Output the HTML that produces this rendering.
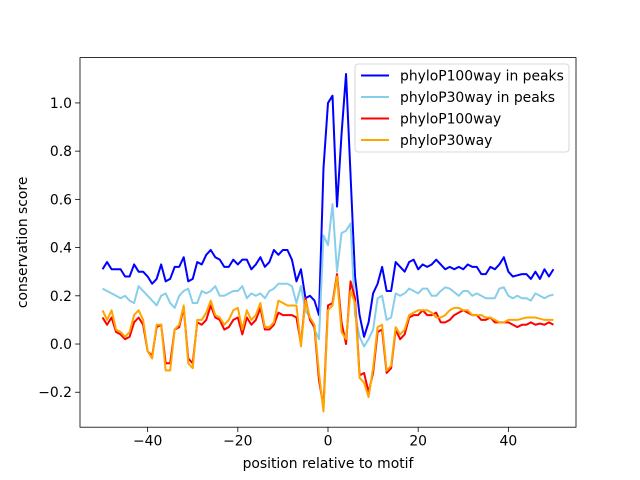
<!DOCTYPE html>
<html><head><meta charset="utf-8"><style>
body{margin:0;background:#fff;}
svg{display:block;font-family:"DejaVu Sans","Liberation Sans",sans-serif;}
</style></head><body>
<svg id="chart" width="640" height="480"></svg>
<script>
const xStart = -50;
const p100Peaks = [.31,.34,.31,.31,.31,.28,.28,.33,.30,.30, .28,.25,.27,.33,.26,.27,.32,.32,.36,.26, .27,.34,.33,.37,.39,.36,.35,.32,.32,.35, .33,.35,.35,.31,.33,.36,.32,.34,.39,.37, .39,.39,.35,.26,.31,.19,.20,.18,.12,.73,
 1.00,1.03,.57,.87,1.12,.70,.28,.12,.03,.09,.21,.25,.32,.22,.22,.34,.32,.30,.34,.35, .31,.33,.32,.33,.35,.33,.31,.32,.31,.32, .31,.33,.32,.32,.29,.29,.32,.31,.33,.36, .30,.28,.285,.29,.29,.27,.30,.27,.31,.28,.31];
const p30Peaks = [.23,.22,.21,.20,.19,.20,.18,.17,.24,.22, .20,.18,.16,.20,.21,.17,.15,.20,.22,.23, .17,.17,.22,.21,.22,.24,.20,.20,.21,.22, .22,.24,.19,.21,.20,.21,.19,.22,.23,.25, .25,.25,.24,.17,.24,.14,.11,.06,.02,.45,
 .41,.58,.30,.46,.47,.50,.12,.03,-.01,.02,.06,.19,.20,.10,.11,.21,.20,.21,.23,.22, .21,.23,.23,.20,.20,.22,.235,.23,.215,.20, .22,.22,.20,.21,.20,.19,.19,.19,.23,.235, .20,.19,.20,.19,.19,.18,.21,.20,.19,.20,.205];
const p100All = [.11,.08,.11,.05,.04,.02,.03,.09,.11,.08, -.03,-.05,.07,.08,-.08,-.08,.06,.07,.15,-.06, -.08,.09,.08,.10,.16,.11,.10,.06,.07,.10, .11,.04,.11,.08,.10,.15,.06,.06,.08,.13, .12,.12,.12,.11,0,.19,.10,.07,-.15,-.26,
 .16,.17,.29,.09,.00,.26,.19,-.13,-.12,-.20,-.12,.05,.06,-.12,-.10,.06,.02,.04,.11,.12, .12,.14,.12,.12,.13,.09,.09,.10,.12,.13, .14,.13,.12,.12,.10,.10,.11,.09,.09,.09, .09,.08,.07,.08,.08,.09,.08,.085,.08,.09,.08];
const p30All = [.14,.10,.14,.06,.05,.03,.05,.12,.14,.10, -.03,-.06,.08,.08,-.11,-.11,.06,.08,.16,-.08, -.10,.10,.10,.13,.18,.12,.11,.08,.10,.14, .15,.06,.14,.10,.12,.17,.07,.07,.09,.18, .17,.16,.16,.16,-.01,.18,.11,.08,-.12,-.28,
 .14,.16,.28,.05,.02,.22,.17,-.14,-.16,-.22,-.10,.07,.08,-.11,-.09,.07,.04,.06,.12,.13, .14,.14,.14,.13,.11,.11,.12,.14,.15,.15, .14,.14,.12,.12,.12,.11,.11,.10,.09,.09, .10,.10,.10,.105,.11,.11,.11,.105,.10,.10,.10];
const seriesNames = ["phyloP100way in peaks","phyloP30way in peaks","phyloP100way","phyloP30way"];
const xTicks = [-40,-20,0,20,40];
const yTicks = [-0.2,0.0,0.2,0.4,0.6,0.8,1.0];

const NS="http://www.w3.org/2000/svg";
const svg=document.getElementById('chart');
const L=80,R=576,T=57.6,B=427.2;
const xMin=-55,xMax=55,yMin=-0.345,yMax=1.188;
const FS=13.9;
const sx=v=>L+(v-xMin)/(xMax-xMin)*(R-L);
const sy=v=>B-(v-yMin)/(yMax-yMin)*(B-T);
function mk(tag,attrs){const e=document.createElementNS(NS,tag);for(const k in attrs)e.setAttribute(k,attrs[k]);svg.appendChild(e);return e;}

const colors=["#0000ff","#87ceeb","#ff0000","#ffa500"];
[p100Peaks,p30Peaks,p100All,p30All].forEach((arr,si)=>{
  const pts=arr.map((v,i)=>sx(xStart+i).toFixed(2)+","+sy(v).toFixed(2)).join(" ");
  const pl=mk('polyline',{points:pts,fill:'none',stroke:colors[si],'stroke-width':2,'stroke-linejoin':'round'});
  
  
});

const frame=mk('rect',{x:L,y:T,width:R-L,height:B-T,fill:'none',stroke:'#000','stroke-width':0.8});



xTicks.forEach(t=>{
  const x=sx(t);
  const tk=mk('line',{x1:x,x2:x,y1:B,y2:B+4.9,stroke:'#000','stroke-width':0.8});
  
  
  const tx=mk('text',{x:x,y:B+18.5,'text-anchor':'middle','font-size':FS,fill:'#000'});
  tx.textContent=(t<0?'\u2212'+(-t):t);
  
  
});
yTicks.forEach(t=>{
  const y=sy(t);
  const tk=mk('line',{x1:L-4.9,x2:L,y1:y,y2:y,stroke:'#000','stroke-width':0.8});
  
  
  const tx=mk('text',{x:L-8,y:y+5,'text-anchor':'end','font-size':FS,fill:'#000'});
  tx.textContent=(t<0?'\u2212':'')+Math.abs(t).toFixed(1);
  
  
});
const xl=mk('text',{x:(L+R)/2,y:468,'text-anchor':'middle','font-size':FS,fill:'#000'});
xl.textContent='position relative to motif';


const yl=mk('text',{x:0,y:0,'text-anchor':'middle','font-size':FS,fill:'#000',transform:'translate(27,'+((T+B)/2)+') rotate(-90)'});
yl.textContent='conservation score';



const lg=mk('rect',{x:355,y:64,width:214,height:88,rx:3,fill:'#fff','fill-opacity':0.8,stroke:'#ccc','stroke-width':0.8});


seriesNames.forEach((n,i)=>{
  const y=75.5+i*21.5;
  const ln=mk('line',{x1:361,x2:389,y1:y,y2:y,stroke:colors[i],'stroke-width':2});
  
  
  const tx=mk('text',{x:400,y:y+5,'font-size':FS,fill:'#000'});
  tx.textContent=n;
  
  
});
</script>
</body></html>
